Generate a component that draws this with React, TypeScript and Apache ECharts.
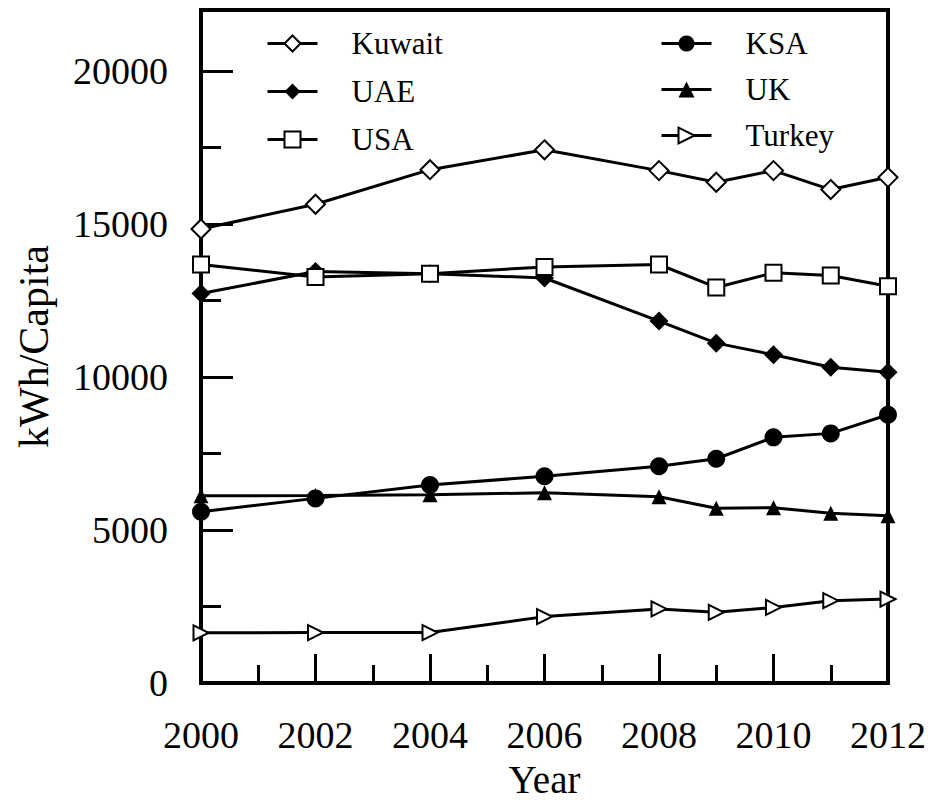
import React, { useEffect, useRef } from "react";
import * as echarts from "echarts";

// Per-capita electricity consumption (kWh) by country
const years = [2000, 2002, 2004, 2006, 2008, 2009, 2010, 2011, 2012];
const kuwait = [14840, 15650, 16780, 17430, 16750, 16370, 16750, 16130, 16530];
const uae = [12730, 13450, 13380, 13240, 11830, 11110, 10730, 10320, 10160];
const usa = [13680, 13270, 13380, 13600, 13680, 12930, 13410, 13320, 12970];
const ksa = [5600, 6035, 6470, 6760, 7085, 7330, 8030, 8160, 8770];
const uk = [6120, 6130, 6150, 6220, 6090, 5710, 5730, 5550, 5465];
const turkey = [1640, 1650, 1650, 2170, 2420, 2310, 2470, 2690, 2745];

const FONT = "Liberation Serif, Times New Roman, Times, DejaVu Serif, serif";

const pairs = (vals: number[]) => years.map((y, i) => [y, vals[i]]);

type Spec = {
  name: string;
  values: number[];
  symbol: string;
  size: number;
  rotate?: number;
  empty: boolean;
};

const specs: Spec[] = [
  { name: "Kuwait", values: kuwait, symbol: "emptyDiamond", size: 19, empty: true },
  { name: "UAE", values: uae, symbol: "diamond", size: 19, empty: false },
  { name: "USA", values: usa, symbol: "emptyRect", size: 16, empty: true },
  { name: "KSA", values: ksa, symbol: "circle", size: 18, empty: false },
  { name: "UK", values: uk, symbol: "triangle", size: 15, empty: false },
  { name: "Turkey", values: turkey, symbol: "emptyTriangle", size: 15, rotate: -90, empty: true },
];

export default function App() {
  const ref = useRef<HTMLDivElement>(null);

  useEffect(() => {
    if (!ref.current) return;
    const chart = echarts.init(ref.current, undefined, { renderer: "svg" });

    const legendText = {
      fontFamily: FONT,
      fontSize: 31,
      color: "#000",
      lineHeight: 31,
      padding: [0, 0, 0, 29],
    };
    const legendBase = {
      orient: "vertical",
      top: 28,
      padding: 0,
      itemWidth: 50,
      itemHeight: 20,
      textStyle: legendText,
      lineStyle: { width: 3, color: "#000" },
    };

    chart.setOption({
      animation: false,
      backgroundColor: "#fff",
      textStyle: { fontFamily: FONT, color: "#000" },
      grid: {
        left: 201,
        right: 45,
        top: 10,
        bottom: 116,
        show: true,
        borderColor: "#000",
        borderWidth: 4,
      },
      legend: [
        { ...legendBase, data: ["Kuwait", "UAE", "USA"], left: 266, itemGap: 17 },
        { ...legendBase, data: ["KSA", "UK", "Turkey"], left: 660, itemGap: 15 },
      ],
      xAxis: {
        type: "value",
        min: 2000,
        max: 2012,
        interval: 2,
        name: "Year",
        nameLocation: "middle",
        nameGap: 77,
        nameTextStyle: { fontFamily: FONT, fontSize: 39, color: "#000" },
        axisLine: { show: true, lineStyle: { color: "#000", width: 4 } },
        axisTick: { show: true, inside: true, length: 29, lineStyle: { color: "#000", width: 3 } },
        minorTick: { show: true, splitNumber: 2, length: 18, lineStyle: { color: "#000", width: 3 } },
        axisLabel: {
          fontFamily: FONT,
          fontSize: 38,
          color: "#000",
          margin: 33,
          formatter: (v: number) => String(v),
        },
        splitLine: { show: false },
        minorSplitLine: { show: false },
      },
      yAxis: [
        {
          type: "value",
          position: "left",
          min: 0,
          max: 22000,
          interval: 5000,
          name: "kWh/Capita",
          nameLocation: "middle",
          nameGap: 146,
          nameTextStyle: { fontFamily: FONT, fontSize: 42, color: "#000" },
          axisLine: { show: true, lineStyle: { color: "#000", width: 4 } },
          axisTick: { show: true, inside: true, length: 32, lineStyle: { color: "#000", width: 3 } },
          axisLabel: {
            fontFamily: FONT,
            fontSize: 38,
            color: "#000",
            margin: 33,
            formatter: (v: number) => (v % 5000 === 0 ? String(v) : ""),
          },
          splitLine: { show: false },
        },
        {
          type: "value",
          position: "left",
          min: 0,
          max: 22000,
          interval: 2500,
          axisLine: { show: false },
          axisTick: { show: true, inside: true, length: 20, lineStyle: { color: "#000", width: 3 } },
          axisLabel: { show: false },
          splitLine: { show: false },
        },
      ],
      series: specs.map((s) => ({
        name: s.name,
        type: "line",
        yAxisIndex: 0,
        data: pairs(s.values),
        symbol: s.symbol,
        symbolSize: s.size,
        symbolRotate: s.rotate ?? 0,
        showAllSymbol: true,
        clip: false,
        color: "#000",
        lineStyle: { color: "#000", width: 3 },
        itemStyle: s.empty
          ? { color: "#000", borderColor: "#000", borderWidth: 2 }
          : { color: "#000", borderWidth: 0 },
        emphasis: { disabled: true },
      })),
    });

    return () => chart.dispose();
  }, []);

  return (
    <div
      ref={ref}
      style={{ position: "fixed", left: 0, top: 0, width: 933, height: 804 }}
    />
  );
}
